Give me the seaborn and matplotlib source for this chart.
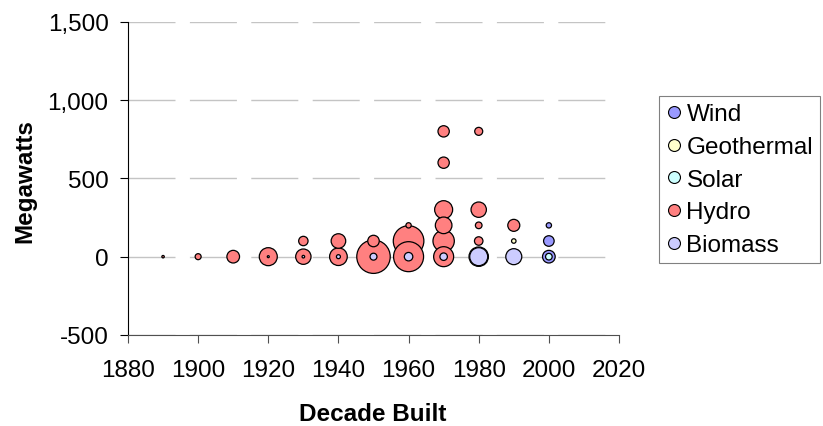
import matplotlib
matplotlib.use("Agg")
import matplotlib.pyplot as plt
from matplotlib.lines import Line2D
from matplotlib.ticker import FuncFormatter, FixedLocator
import seaborn as sns
import pandas as pd

# ---- data ----
series_order = ["Wind", "Geothermal", "Solar", "Hydro", "Biomass"]
series_colors = ["#9999FF", "#FFFFCC", "#CCFFFF", "#FF8080", "#CCCCFF"]

wind_decade = [2000, 2000, 2000]
wind_mw = [0, 100, 200]
wind_size = [40, 28, 7]

geo_decade = [1990]
geo_mw = [100]
geo_size = [5]

solar_decade = [2000]
solar_mw = [0]
solar_size = [11]

hydro_decade = [1890, 1900, 1910, 1920, 1930, 1930, 1940, 1940, 1950, 1950,
                1960, 1960, 1960, 1970, 1970, 1970, 1970, 1970, 1970,
                1980, 1980, 1980, 1980, 1990]
hydro_mw = [0, 0, 0, 0, 0, 100, 0, 100, 0, 100,
            0, 100, 200, 0, 100, 200, 300, 600, 800,
            100, 200, 300, 800, 200]
hydro_size = [1.5, 9, 40, 81, 59, 22, 78, 53, 280, 33,
              225, 234, 7, 100, 114, 69, 81, 32, 32,
              18, 11, 59, 16, 36]

bio_decade = [1920, 1930, 1940, 1950, 1960, 1970, 1980, 1980, 1990]
bio_mw = [0, 0, 0, 0, 0, 0, 0, 0, 0]
bio_size = [1, 1.7, 4, 12, 18, 14, 94, 81, 64]

x_ticks = [1880, 1900, 1920, 1940, 1960, 1980, 2000, 2020]
y_ticks = [-500, 0, 500, 1000, 1500]

# ---- build table ----
frames = []
for name, d, m, s in [("Wind", wind_decade, wind_mw, wind_size),
                      ("Geothermal", geo_decade, geo_mw, geo_size),
                      ("Solar", solar_decade, solar_mw, solar_size),
                      ("Hydro", hydro_decade, hydro_mw, hydro_size),
                      ("Biomass", bio_decade, bio_mw, bio_size)]:
    f = pd.DataFrame({"Decade Built": d, "Megawatts": m, "Size": s})
    f["Type"] = name
    f = f.sort_values("Size", ascending=False)
    frames.append(f)
df = pd.concat(frames, ignore_index=True)

# ---- style ----
sns.set_theme(style="white")
plt.rcParams["font.family"] = ["Liberation Sans", "DejaVu Sans"]
plt.rcParams["axes.unicode_minus"] = False
plt.rcParams["lines.scale_dashes"] = False
plt.rcParams["text.color"] = "black"
plt.rcParams["axes.labelcolor"] = "black"
plt.rcParams["xtick.color"] = "black"
plt.rcParams["ytick.color"] = "black"

FS = 17.5

fig = plt.figure(figsize=(8.23, 4.27), dpi=100)
ax = fig.add_axes([128 / 823, 1 - 336 / 427, (619 - 128) / 823, (336 - 22.7) / 427])

# gridlines (dashed)
ax.set_axisbelow(True)
ax.yaxis.grid(True, color="#C4C4C4", linewidth=1.0, linestyle=(0, (33.84, 10.37)))
ax.xaxis.grid(False)

px2 = (2 * 0.72) ** 2  # radius^2 in px -> marker area in pt^2
sns.scatterplot(data=df, x="Decade Built", y="Megawatts", hue="Type",
                hue_order=series_order, palette=series_colors,
                size="Size", sizes=(0, px2 * 300), size_norm=(0, 300),
                edgecolor="black", linewidth=0.9, legend=False, ax=ax, zorder=3)

ax.set_xlim(1880, 2020)
ax.set_ylim(-500, 1500)
ax.xaxis.set_major_locator(FixedLocator(x_ticks))
ax.yaxis.set_major_locator(FixedLocator(y_ticks))
ax.yaxis.set_major_formatter(FuncFormatter(lambda v, p: f"{int(v):,}"))

for s in ["top", "right"]:
    ax.spines[s].set_visible(False)
ax.spines["left"].set_color("black")
ax.spines["left"].set_linewidth(0.8)
ax.spines["bottom"].set_color("#505050")
ax.spines["bottom"].set_linewidth(0.8)
ax.spines["left"].set_zorder(4)
ax.spines["bottom"].set_zorder(4)

ax.tick_params(axis="both", which="major", direction="out", length=6,
               width=0.8, labelsize=FS, labelcolor="black", bottom=True, left=True)
ax.tick_params(axis="x", pad=11, color="#505050")
ax.tick_params(axis="y", pad=8, color="black")
ax.set_xlabel("")
ax.set_ylabel("")

fig.text(373 / 823, 1 - 421 / 427, "Decade Built", ha="center", va="baseline",
         fontsize=FS, fontweight="bold", color="black")
fig.text(25 / 823, 1 - 181 / 427, "Megawatts", ha="center", va="center",
         rotation=90, fontsize=FS, fontweight="bold", color="black")

handles = [Line2D([], [], marker="o", linestyle="", markersize=8.6,
                  markerfacecolor=c, markeredgecolor="black", markeredgewidth=0.8)
           for c in series_colors]
leg = fig.legend(handles, series_order, loc="upper left",
                 bbox_to_anchor=(659 / 823, 1 - 97 / 427), borderaxespad=0,
                 fontsize=FS, frameon=True, fancybox=False, framealpha=1,
                 edgecolor="#808080", borderpad=0.3, handlelength=0.61,
                 handletextpad=0.22, labelspacing=0.44)
leg.get_frame().set_linewidth(0.8)
for t in leg.get_texts():
    t.set_color("black")

fig.savefig("out.png", dpi=100, facecolor="white")
